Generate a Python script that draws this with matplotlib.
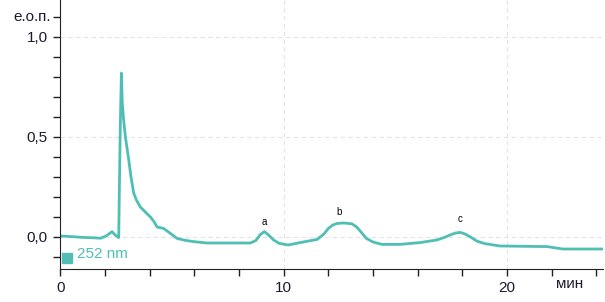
import matplotlib.pyplot as plt
import matplotlib.transforms as mtransforms

# retention time, min / absorbance, e.o.p.
time_min = [0.0, 0.5, 1.0, 1.5, 1.79, 2.05, 2.31, 2.45, 2.61, 2.64, 2.68, 2.73,
            2.77, 2.83, 2.91, 3.06, 3.16, 3.28, 3.4, 3.58, 3.8, 4.03, 4.2,
            4.33, 4.62, 4.9, 5.22, 5.6, 5.96, 6.56, 8.5, 8.75, 8.95, 9.13,
            9.3, 9.55, 9.8, 10.2, 10.74, 11.5, 11.8, 12.0, 12.2, 12.4, 12.7,
            13.05, 13.27, 13.5, 13.7, 14.0, 14.4, 15.2, 16.1, 16.85, 17.2,
            17.45, 17.7, 17.9, 18.1, 18.34, 18.64, 19.0, 19.69, 21.8, 22.5,
            24.3]
signal = [0.005, 0.002, -0.002, -0.004, -0.006, 0.005, 0.027, 0.01, -0.003,
          0.25, 0.55, 0.82, 0.67, 0.585, 0.50, 0.385, 0.30, 0.22, 0.185,
          0.15, 0.125, 0.10, 0.075, 0.05, 0.043, 0.02, -0.007, -0.017,
          -0.023, -0.03, -0.03, -0.018, 0.012, 0.027, 0.012, -0.015, -0.032,
          -0.04, -0.028, -0.012, 0.015, 0.043, 0.06, 0.068, 0.07, 0.066,
          0.05, 0.02, -0.007, -0.025, -0.037, -0.037, -0.028, -0.015, -0.002,
          0.01, 0.02, 0.023, 0.016, 0.002, -0.02, -0.033, -0.045, -0.048,
          -0.06, -0.06]

peak_names = ['a', 'b', 'c']
peak_time = [9.13, 12.5, 17.9]
peak_label_y = [0.077, 0.127, 0.09]

y_ticks = [0.0, 0.5, 1.0]
y_tick_labels = ['0,0', '0,5', '1,0']
x_ticks = [0, 10, 20]

COLOR = '#4fbfb6'
TXT = '#1a1a2e'

plt.rcParams['font.family'] = ['Liberation Sans', 'DejaVu Sans']

fig = plt.figure(figsize=(6.05, 3.02), dpi=100)
ax = fig.add_axes([60 / 605, 33 / 302, 543 / 605, 269 / 302])

ax.plot(time_min, signal, color=COLOR, linewidth=2)

ax.set_xlim(-0.02, 24.3)
ax.set_ylim(-0.16, 1.185)

ax.set_yticks(y_ticks)
ax.set_yticklabels(y_tick_labels)
ax.set_yticks([-0.1, 0.1, 0.2, 0.3, 0.4, 0.6, 0.7, 0.8, 0.9, 1.1], minor=True)
ax.set_xticks(x_ticks)
ax.set_xticks([2, 4, 6, 8, 12, 14, 16, 18, 22, 24], minor=True)

ax.tick_params(which='both', direction='out', length=5, width=1, color='#222222')
ax.tick_params(axis='both', which='major', labelsize=11, pad=4, labelcolor=TXT)

for s in ['top', 'right']:
    ax.spines[s].set_visible(False)
for s in ['left', 'bottom']:
    ax.spines[s].set_color('#222222')

ax.grid(True, which='major', color='#e4e4e4', linestyle=(0, (4, 3)), linewidth=0.8)
ax.set_axisbelow(True)

# unit labels sitting on the axes
ax.text(-0.016, 1.1, 'е.о.п.', transform=mtransforms.blended_transform_factory(ax.transAxes, ax.transData),
        ha='right', va='center', fontsize=11, color=TXT)
ax.text(22.8, -0.03, 'мин', transform=mtransforms.blended_transform_factory(ax.transData, ax.transAxes),
        ha='center', va='top', fontsize=11, color=TXT)

for name, t, y in zip(peak_names, peak_time, peak_label_y):
    ax.text(t, y, name, ha='center', va='center', fontsize=7, color='black')

# legend square + wavelength
ax.plot([0.3], [-0.105], marker='s', markersize=7, color=COLOR, linestyle='none', clip_on=False)
ax.text(0.75, -0.085, '252 nm', ha='left', va='center', fontsize=11, color=COLOR)

fig.savefig('out.png', dpi=100)
plt.close(fig)
